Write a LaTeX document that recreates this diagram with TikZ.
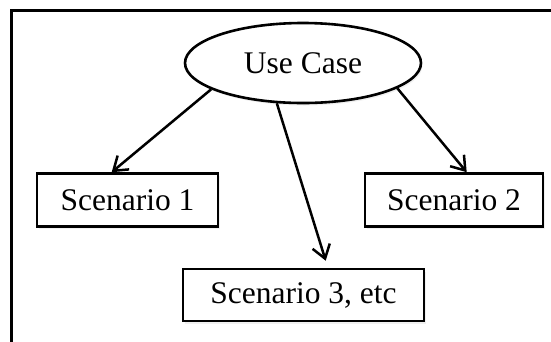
\documentclass[tikz,border=0pt]{standalone}
\usepackage{fontspec}
\setmainfont{Liberation Serif}
\usetikzlibrary{shapes.geometric,arrows.meta,calc,shadows}
\begin{document}
\begin{tikzpicture}[x=1pt,y=-1pt,
  every node/.style={font=\fontsize{31.5}{36}\selectfont, inner sep=0pt},
  scbox/.style={draw, line width=2.6pt, rectangle, minimum height=53pt,
    drop shadow={opacity=0.12, shadow xshift=1.5pt, shadow yshift=-2.5pt}},
  ucell/.style={draw, line width=2.6pt, ellipse, minimum width=236pt, minimum height=80pt, fill=white,
    drop shadow={opacity=0.12, shadow xshift=1.5pt, shadow yshift=-2.5pt}},
  conn/.style={line width=2.5pt, -{Straight Barb[length=13pt,width=18pt,line width=2.5pt]}}]
\useasboundingbox (0,0) rectangle (551,341);
\clip (0,0) rectangle (551,341);
\draw[line width=3pt] (11,350) -- (11,10) -- (560,10);
\node[ucell] (uc) at (303,63) {Use Case};
\node[scbox, fill=white, minimum width=181pt] (s1) at (127.5,200) {Scenario 1};
\node[scbox, fill=white, minimum width=178pt] (s2) at (454,200) {Scenario 2};
\node[scbox, fill=white, minimum width=241pt, minimum height=52pt] (s3) at (303.5,295) {Scenario 3, etc};
\coordinate (e1) at ($(s1.north west)+(76,0)$);
\coordinate (e2) at ($(s2.north west)+(103,0)$);
\coordinate (e3) at ($(s3.north west)+(144,-7)$);
\draw[conn] (uc.196) -- (e1);
\draw[conn] (uc.345) -- (e2);
\draw[conn] (uc.237) -- (e3);
\end{tikzpicture}
\end{document}
